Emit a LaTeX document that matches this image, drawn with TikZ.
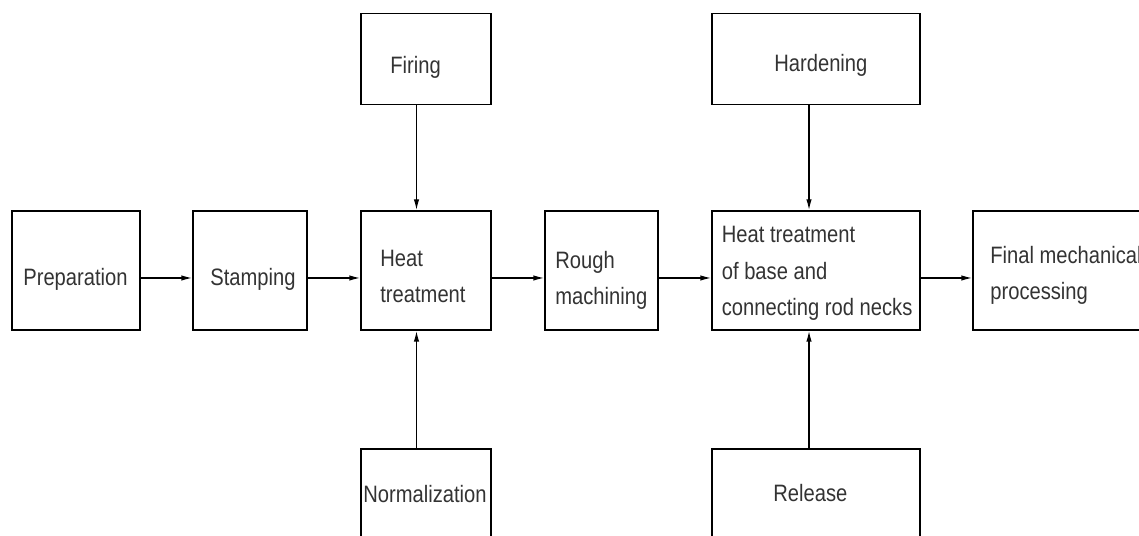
\documentclass[tikz,border=0pt]{standalone}
\usepackage{fontspec}
\setmainfont[FakeStretch=0.85]{Liberation Sans}
\usepackage{tikz}
\usetikzlibrary{arrows.meta}

\begin{document}
\begin{tikzpicture}[
    stage/.style={draw, line width=0.8pt, inner sep=0pt, minimum height=2.38cm},
    side/.style={stage, minimum height=1.82cm},
    txt/.style={anchor=north west, inner sep=0pt, align=left, text=black!80,
                font=\fontsize{13.5}{20.7}\selectfont},
    flow/.style={line width=0.8pt, -{Latex[length=0.22cm, width=0.11cm]}}
  ]
  \useasboundingbox (0, 0) rectangle (22.78, 10.72);
  \clip (0, 0) rectangle (22.78, 10.72);

  % Main line of stages
  \node[stage, minimum width=2.56cm] (prep)   at (1.52, 5.31) {};
  \node[stage, minimum width=2.28cm] (stamp)  at (5.00, 5.31) {};
  \node[stage, minimum width=2.60cm] (heat)   at (8.52, 5.31) {};
  \node[stage, minimum width=2.26cm] (rough)  at (12.03, 5.31) {};
  \node[stage, minimum width=4.16cm] (hbase)  at (16.32, 5.31) {};
  \node[stage, minimum width=4.00cm] (final)  at (21.46, 5.31) {};

  % Side operations above and below
  \node[side, minimum width=2.60cm] (firing)  at (8.52, 9.54) {};
  \node[side, minimum width=2.60cm] (norm)    at (8.52, 0.83) {};
  \node[side, minimum width=4.16cm] (harden)  at (16.32, 9.54) {};
  \node[side, minimum width=4.16cm] (release) at (16.32, 0.83) {};

  % Texts
  \node[txt] (prepT)    at (0.46, 5.37)  {Preparation};
  \node[txt] (stampT)   at (4.20, 5.37)  {Stamping};
  \node[txt] (heatT)    at (7.60, 5.73)  {Heat\\treatment};
  \node[txt] (roughT)   at (11.10, 5.70) {Rough\\machining};
  \node[txt] (hbaseT)   at (14.43, 6.20) {Heat treatment\\of base and\\connecting rod necks};
  \node[txt] (finalT)   at (19.80, 5.80) {Final mechanical\\processing};
  \node[txt] (firingT)  at (7.80, 9.60)  {Firing};
  \node[txt] (normT)    at (7.26, 1.03)  {Normalization};
  \node[txt] (hardenT)  at (15.48, 9.65) {Hardening};
  \node[txt] (releaseT) at (15.46, 1.05) {Release};

  % Arrows along the main line
  \draw[flow] ([yshift=-0.15cm]prep.east)  -- ([yshift=-0.15cm]stamp.west);
  \draw[flow] ([yshift=-0.15cm]stamp.east) -- ([yshift=-0.15cm]heat.west);
  \draw[flow] ([yshift=-0.15cm]heat.east)  -- ([yshift=-0.15cm]rough.west);
  \draw[flow] ([yshift=-0.15cm]rough.east) -- ([yshift=-0.15cm]hbase.west);
  \draw[flow] ([yshift=-0.15cm]hbase.east) -- ([yshift=-0.15cm]final.west);

  % Arrows from the side operations
  \draw[flow] ([xshift=-0.19cm]firing.south) -- ([xshift=-0.19cm]heat.north);
  \draw[flow] ([xshift=-0.19cm]norm.north)   -- ([xshift=-0.19cm]heat.south);
  \draw[flow] ([xshift=-0.14cm]harden.south) -- ([xshift=-0.14cm]hbase.north);
  \draw[flow] ([xshift=-0.14cm]release.north) -- ([xshift=-0.14cm]hbase.south);
\end{tikzpicture}
\end{document}
